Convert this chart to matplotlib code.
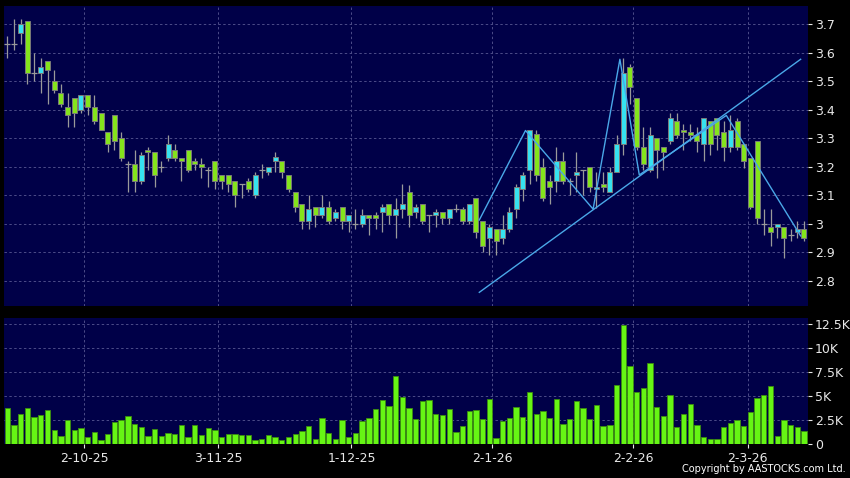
import numpy as np
import matplotlib
matplotlib.use('Agg')
import matplotlib.pyplot as plt

# Daily candles (open, high, low, close)
opens = [3.63, 3.63, 3.67, 3.71, 3.53, 3.53, 3.57, 3.50, 3.46, 3.41,
         3.44, 3.40, 3.45, 3.41, 3.39, 3.32, 3.38, 3.30, 3.21, 3.21,
         3.15, 3.26, 3.25, 3.20, 3.23, 3.26, 3.23, 3.26, 3.22, 3.21,
         3.19, 3.22, 3.17, 3.17, 3.15, 3.14, 3.15, 3.10, 3.19, 3.18,
         3.22, 3.22, 3.17, 3.11, 3.07, 3.01, 3.06, 3.03, 3.06, 3.02,
         3.06, 3.01, 3.00, 3.00, 3.03, 3.03, 3.04, 3.07, 3.03, 3.05,
         3.11, 3.04, 3.07, 3.03, 3.03, 3.04, 3.02, 3.05, 3.05, 3.01,
         3.09, 3.01, 2.95, 2.98, 2.95, 2.98, 3.05, 3.12, 3.19, 3.315,
         3.20, 3.15, 3.15, 3.22, 3.15, 3.17, 3.19, 3.20, 3.12, 3.14,
         3.11, 3.18, 3.28, 3.55, 3.44, 3.27, 3.19, 3.30, 3.27, 3.29,
         3.36, 3.33, 3.32, 3.31, 3.28, 3.36, 3.37, 3.32, 3.27, 3.36,
         3.28, 3.23, 3.29, 3.00, 2.99, 2.99, 2.99, 2.96, 2.97, 2.98]
highs = [3.66, 3.72, 3.72, 3.71, 3.60, 3.58, 3.57, 3.54, 3.49, 3.46,
         3.44, 3.45, 3.45, 3.45, 3.39, 3.32, 3.38, 3.32, 3.22, 3.26,
         3.25, 3.27, 3.25, 3.22, 3.31, 3.28, 3.23, 3.26, 3.23, 3.23,
         3.20, 3.22, 3.17, 3.17, 3.15, 3.14, 3.16, 3.18, 3.21, 3.20,
         3.25, 3.22, 3.17, 3.11, 3.07, 3.10, 3.06, 3.10, 3.08, 3.05,
         3.06, 3.03, 3.05, 3.05, 3.03, 3.04, 3.07, 3.07, 3.09, 3.14,
         3.135, 3.07, 3.07, 3.03, 3.05, 3.04, 3.05, 3.07, 3.06, 3.07,
         3.09, 3.01, 3.00, 2.98, 3.03, 3.06, 3.14, 3.18, 3.33, 3.33,
         3.23, 3.17, 3.27, 3.25, 3.16, 3.25, 3.19, 3.20, 3.18, 3.18,
         3.20, 3.31, 3.58, 3.56, 3.44, 3.34, 3.34, 3.30, 3.27, 3.39,
         3.39, 3.35, 3.35, 3.34, 3.37, 3.36, 3.37, 3.36, 3.38, 3.37,
         3.28, 3.23, 3.29, 3.05, 3.05, 3.00, 2.99, 2.98, 3.01, 3.01]
lows = [3.58, 3.61, 3.63, 3.49, 3.50, 3.46, 3.42, 3.46, 3.41, 3.34,
        3.34, 3.39, 3.38, 3.35, 3.33, 3.25, 3.26, 3.22, 3.11, 3.11,
        3.14, 3.19, 3.13, 3.18, 3.22, 3.22, 3.15, 3.18, 3.19, 3.16,
        3.13, 3.12, 3.12, 3.11, 3.06, 3.09, 3.11, 3.09, 3.16, 3.17,
        3.18, 3.16, 3.11, 3.04, 2.98, 2.98, 2.99, 3.02, 3.00, 3.01,
        2.98, 2.97, 2.98, 2.99, 2.96, 2.98, 2.97, 3.00, 2.95, 3.02,
        2.99, 3.02, 3.00, 2.97, 2.99, 3.00, 3.00, 3.04, 3.00, 3.00,
        2.95, 2.90, 2.89, 2.89, 2.93, 2.97, 3.02, 3.08, 3.14, 3.15,
        3.08, 3.07, 3.11, 3.14, 3.10, 3.11, 3.10, 3.11, 3.055, 3.11,
        3.11, 3.18, 3.24, 3.42, 3.26, 3.19, 3.18, 3.16, 3.19, 3.28,
        3.30, 3.26, 3.29, 3.25, 3.22, 3.24, 3.26, 3.22, 3.25, 3.26,
        3.195, 3.05, 3.00, 2.96, 2.92, 2.95, 2.88, 2.94, 2.95, 2.94]
closes = [3.63, 3.63, 3.70, 3.53, 3.53, 3.55, 3.54, 3.47, 3.42, 3.38,
          3.39, 3.45, 3.41, 3.36, 3.33, 3.28, 3.29, 3.23, 3.21, 3.15,
          3.24, 3.25, 3.17, 3.20, 3.28, 3.23, 3.22, 3.19, 3.21, 3.20,
          3.19, 3.15, 3.15, 3.14, 3.10, 3.14, 3.12, 3.17, 3.19, 3.20,
          3.235, 3.18, 3.12, 3.06, 3.01, 3.05, 3.03, 3.06, 3.01, 3.04,
          3.01, 3.03, 3.00, 3.03, 3.02, 3.02, 3.06, 3.03, 3.05, 3.07,
          3.03, 3.06, 3.01, 3.03, 3.04, 3.02, 3.05, 3.05, 3.01, 3.07,
          2.97, 2.92, 2.99, 2.94, 2.98, 3.04, 3.13, 3.17, 3.33, 3.17,
          3.09, 3.13, 3.22, 3.15, 3.15, 3.18, 3.19, 3.13, 3.13, 3.13,
          3.18, 3.28, 3.53, 3.48, 3.27, 3.21, 3.31, 3.26, 3.25, 3.37,
          3.31, 3.32, 3.31, 3.29, 3.37, 3.28, 3.31, 3.27, 3.33, 3.27,
          3.22, 3.06, 3.02, 3.00, 2.97, 3.00, 2.95, 2.96, 2.98, 2.95]

# Volume in thousands of shares
volumes = [3.73, 1.92, 3.15, 3.70, 2.77, 3.01, 3.49, 1.47, 0.79, 2.47,
           1.44, 1.64, 0.65, 1.20, 0.38, 1.06, 2.23, 2.43, 2.95, 2.05,
           1.75, 0.79, 1.58, 0.79, 1.13, 0.99, 1.92, 0.68, 1.92, 0.96,
           1.61, 1.40, 0.65, 1.06, 0.99, 0.86, 0.89, 0.41, 0.51, 0.89,
           0.75, 0.38, 0.72, 1.06, 1.30, 1.85, 0.51, 2.64, 1.10, 0.45,
           2.47, 0.68, 1.10, 2.40, 2.74, 3.63, 4.62, 3.97, 7.12, 4.93,
           3.77, 2.60, 4.50, 4.57, 3.07, 3.00, 3.67, 1.19, 1.82, 3.46,
           3.49, 2.58, 4.71, 0.59, 2.34, 2.72, 3.81, 2.83, 5.45, 3.11,
           3.46, 2.72, 4.64, 2.06, 2.55, 4.43, 3.77, 2.58, 4.02, 1.85,
           1.99, 6.11, 12.43, 8.14, 5.41, 5.80, 8.41, 3.81, 2.90, 5.06,
           1.75, 3.07, 4.19, 1.96, 0.70, 0.49, 0.52, 1.78, 2.16, 2.51,
           1.89, 3.28, 4.82, 5.10, 6.04, 0.80, 2.48, 1.92, 1.78, 1.29]

date_labels = ['2-10-25', '3-11-25', '1-12-25', '2-1-26', '2-2-26', '2-3-26']
date_pos = [11.5, 31.5, 51.4, 72.4, 93.5, 110.6]

# hand-drawn trend lines (bar index, price)
zigzag_x = [70.5, 77.4, 87.5, 91.5, 94.4, 107.4, 118.5]
zigzag_y = [3.013, 3.327, 3.051, 3.577, 3.171, 3.38, 2.957]
trend_x = [70.5, 118.5]
trend_y = [2.759, 3.577]

price_ticks = [2.8, 2.9, 3.0, 3.1, 3.2, 3.3, 3.4, 3.5, 3.6, 3.7]
vol_ticks = [0, 2.5, 5, 7.5, 10, 12.5]
vol_tick_labels = ['0', '2.5K', '5K', '7.5K', '10K', '12.5K']

BG = '#000048'
GRID = '#4c4c88'
TXT = '#e8e8e8'
GREEN = '#84e41c'
CYAN = '#36e2f0'
WICK = '#9a9a9a'

fig = plt.figure(figsize=(8.5, 4.78), dpi=100, facecolor='black')
ax1 = fig.add_axes([4 / 850, 172 / 478, 804 / 850, 300 / 478])
ax2 = fig.add_axes([4 / 850, 34.3 / 478, 804 / 850, 125.7 / 478])

for ax in (ax1, ax2):
    ax.set_facecolor(BG)
    for s in ax.spines.values():
        s.set_visible(False)
    ax.set_xlim(-0.5, 119.6)
    ax.yaxis.tick_right()
    ax.tick_params(axis='y', colors=TXT, labelsize=9, length=3, width=0.8, pad=2)
    ax.grid(True, color=GRID, linestyle=(0, (2.5, 2.5)), linewidth=0.7)
    ax.set_axisbelow(True)
    ax.set_xticks(date_pos)

x = np.arange(len(opens))
o = np.array(opens)
c = np.array(closes)
is_up = c > o
is_doji = np.isclose(c, o)

ax1.vlines(x, lows, highs, color=WICK, linewidth=0.9, zorder=2)
body_col = np.where(is_up, CYAN, GREEN)
m = ~is_doji
ax1.bar(x[m], np.maximum(np.abs(c - o)[m], 0.006), bottom=np.minimum(o, c)[m], width=0.75,
        color=body_col[m], edgecolor='#7a7a7a', linewidth=0.7, zorder=3)
ax1.hlines(o[is_doji], x[is_doji] - 0.45, x[is_doji] + 0.45, color=WICK, linewidth=0.9, zorder=3)

ax1.plot(zigzag_x, zigzag_y, color='#4aa8e8', linewidth=1.0, zorder=4)
ax1.plot(trend_x, trend_y, color='#4aa8e8', linewidth=1.0, zorder=4)

ax1.set_ylim(2.711, 3.764)
ax1.set_yticks(price_ticks)
ax1.set_yticklabels(['%g' % v for v in price_ticks])
ax1.tick_params(axis='x', length=0, labelbottom=False)

ax2.bar(x, volumes, width=0.8, color='#66f514', edgecolor='#3c8c10', linewidth=0.6, zorder=3)
ax2.set_ylim(0, 13.16)
ax2.set_yticks(vol_ticks)
ax2.set_yticklabels(vol_tick_labels)
ax2.set_xticklabels(date_labels)
ax2.tick_params(axis='x', colors=TXT, labelsize=9, length=3, width=0.8, pad=3)

fig.text(0.995, 0.008, 'Copyright by AASTOCKS.com Ltd.', color='white', fontsize=7,
         ha='right', va='bottom')

fig.savefig('out.png', dpi=100, facecolor='black')
